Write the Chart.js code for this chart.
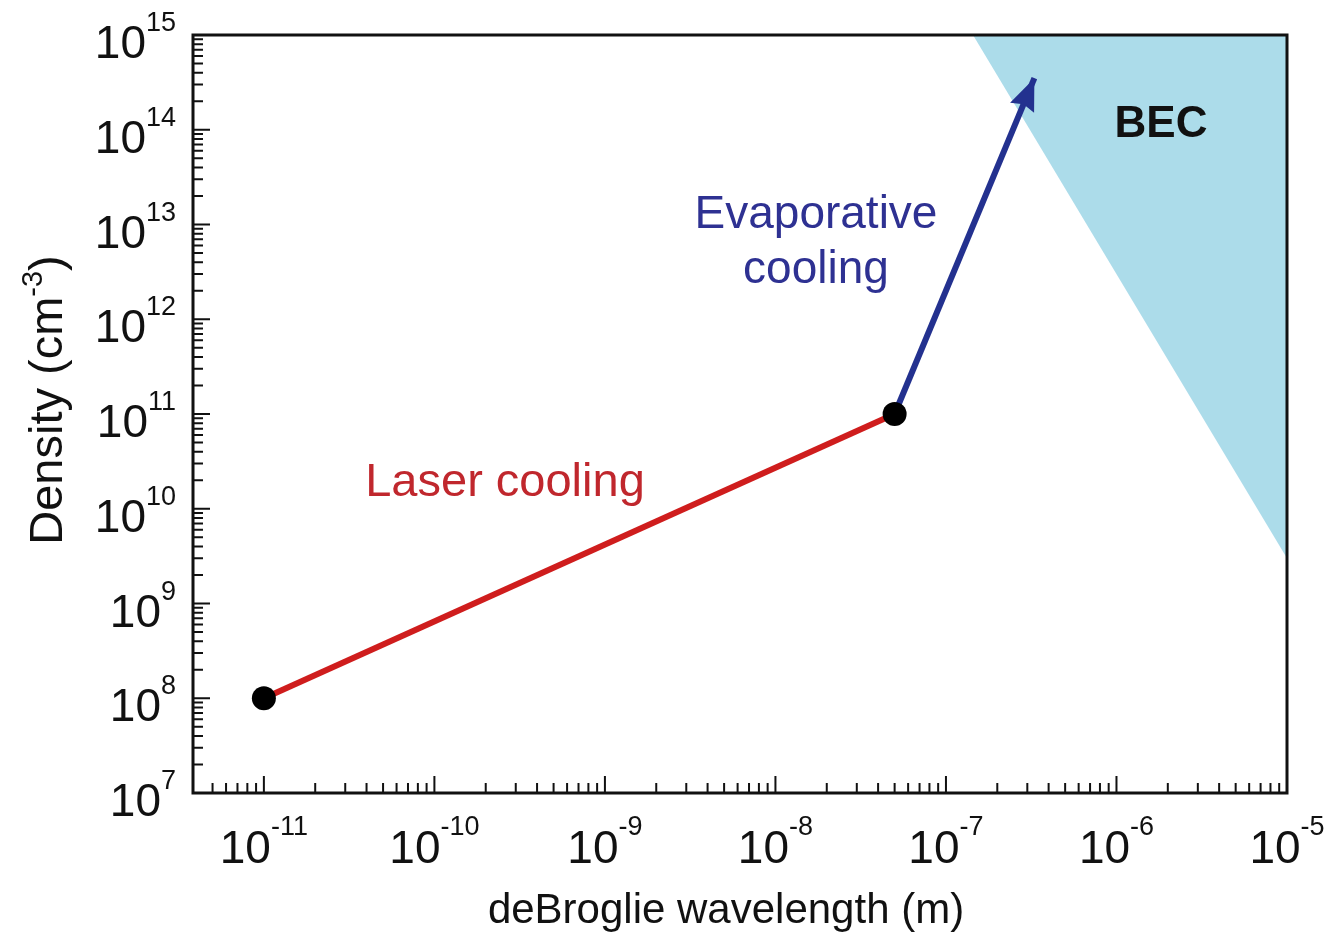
<!DOCTYPE html>
<html>
<head>
<meta charset="utf-8">
<script src="https://cdn.jsdelivr.net/npm/chart.js@4.4.1/dist/chart.umd.min.js"></script>
<style>
  html, body { margin: 0; padding: 0; background: #fff; }
  canvas { display: block; }
</style>
</head>
<body>
<canvas id="chart" width="1331" height="937"></canvas>
<script>
// axis ranges and decade labels
const xRange = [3.84e-12, 1e-5];
const yRange = [1e7, 1e15];
const xTickExponents = [-11, -10, -9, -8, -7, -6, -5];
const yTickExponents = [7, 8, 9, 10, 11, 12, 13, 14, 15];

// laser cooling path
const laserX = [1e-11, 5e-8];
const laserY = [1e8, 1e11];
// evaporative cooling path (ends in the arrow tip)
const evapX = [5e-8, 3.3e-7];
const evapY = [1e11, 3.5e14];
// BEC boundary (n * lambda^3 = const), filled up to the top
const becX = [1.44e-7, 1e-5];
const becY = [1e15, 3e9];
// black markers
const markerX = [1e-11, 5e-8];
const markerY = [1e8, 1e11];

const FONT = '"Liberation Sans", Arial, Helvetica, sans-serif';

function pts(xs, ys) {
    return xs.map((x, i) => ({ x: x, y: ys[i] }));
}

function keepDecadeTicks(scale) {
    scale.ticks = scale.ticks.filter(t => {
        const e = Math.floor(Math.log10(t.value) + 1e-9);
        const m = t.value / Math.pow(10, e);
        return Math.abs(m - Math.round(m)) < 1e-6 && Math.round(m) < 10;
    });
}

function mantissa(v) {
    const e = Math.floor(Math.log10(v) + 1e-9);
    return Math.round(v / Math.pow(10, e));
}

const framePlugin = {
    id: 'frame',
    afterDraw(chart) {
        const ctx = chart.ctx;
        const a = chart.chartArea;
        const xs = chart.scales.x;
        const ys = chart.scales.y;
        ctx.save();

        // arrow head on the evaporative line
        const tipX = xs.getPixelForValue(evapX[1]), tipY = ys.getPixelForValue(evapY[1]);
        const fromX = xs.getPixelForValue(evapX[0]), fromY = ys.getPixelForValue(evapY[0]);
        const ang = Math.atan2(tipY - fromY, tipX - fromX);
        const headLen = 32, headHalf = 13;
        ctx.fillStyle = '#23318f';
        ctx.beginPath();
        ctx.moveTo(tipX, tipY);
        ctx.lineTo(tipX - headLen * Math.cos(ang) + headHalf * Math.sin(ang),
                   tipY - headLen * Math.sin(ang) - headHalf * Math.cos(ang));
        ctx.lineTo(tipX - headLen * 0.88 * Math.cos(ang), tipY - headLen * 0.88 * Math.sin(ang));
        ctx.lineTo(tipX - headLen * Math.cos(ang) - headHalf * Math.sin(ang),
                   tipY - headLen * Math.sin(ang) + headHalf * Math.cos(ang));
        ctx.closePath();
        ctx.fill();

        // frame
        ctx.strokeStyle = '#111';
        ctx.lineWidth = 3;
        ctx.strokeRect(a.left, a.top, a.right - a.left, a.bottom - a.top);

        // inward ticks
        ctx.lineWidth = 2;
        ctx.beginPath();
        xs.ticks.forEach(t => {
            const p = xs.getPixelForValue(t.value);
            if (p < a.left + 1 || p > a.right + 1) return;
            const len = mantissa(t.value) === 1 ? 17 : 10;
            ctx.moveTo(p, a.bottom);
            ctx.lineTo(p, a.bottom - len);
        });
        ys.ticks.forEach(t => {
            const p = ys.getPixelForValue(t.value);
            if (p < a.top - 1 || p > a.bottom + 1) return;
            const len = mantissa(t.value) === 1 ? 17 : 10;
            ctx.moveTo(a.left, p);
            ctx.lineTo(a.left + len, p);
        });
        ctx.stroke();

        // tick labels 10^n
        ctx.fillStyle = '#111';
        const bigFont = '46px ' + FONT;
        const supFont = '27px ' + FONT;
        ctx.textBaseline = 'alphabetic';
        xTickExponents.forEach(e => {
            const p = xs.getPixelForValue(Math.pow(10, e));
            const sup = String(e);
            ctx.font = bigFont;
            const w1 = ctx.measureText('10').width;
            ctx.font = supFont;
            const w2 = ctx.measureText(sup).width;
            const left = p - (w1 + w2) / 2;
            ctx.textAlign = 'left';
            ctx.font = bigFont;
            ctx.fillText('10', left, a.bottom + 70);
            ctx.font = supFont;
            ctx.fillText(sup, left + w1, a.bottom + 42);
        });
        yTickExponents.forEach(e => {
            const p = ys.getPixelForValue(Math.pow(10, e));
            const sup = String(e);
            const right = a.left - 17;
            ctx.font = supFont;
            const w2 = ctx.measureText(sup).width;
            ctx.textAlign = 'right';
            ctx.fillText(sup, right, p - 4);
            ctx.font = bigFont;
            ctx.fillText('10', right - w2, p + 23);
        });

        // axis titles
        ctx.font = '42px ' + FONT;
        ctx.textAlign = 'center';
        ctx.fillText('deBroglie wavelength (m)', 726, 923);

        ctx.save();
        ctx.translate(62, 400);
        ctx.rotate(-Math.PI / 2);
        const tFont = '47px ' + FONT, tSup = '29px ' + FONT;
        ctx.font = tFont;
        const t1 = 'Density (cm', t3 = ')';
        const w1 = ctx.measureText(t1).width, w3 = ctx.measureText(t3).width;
        ctx.font = tSup;
        const w2 = ctx.measureText('-3').width;
        let x0 = -(w1 + w2 + w3) / 2;
        ctx.textAlign = 'left';
        ctx.font = tFont;
        ctx.fillText(t1, x0, 0);
        ctx.font = tSup;
        ctx.fillText('-3', x0 + w1, -20);
        ctx.font = tFont;
        ctx.fillText(t3, x0 + w1 + w2, 0);
        ctx.restore();

        // annotations
        ctx.textAlign = 'center';
        ctx.font = '47px ' + FONT;
        ctx.fillStyle = '#c0272d';
        ctx.fillText('Laser cooling', 505, 496);
        ctx.font = '46px ' + FONT;
        ctx.fillStyle = '#2e3192';
        ctx.fillText('Evaporative', 816, 228);
        ctx.fillText('cooling', 816, 283);
        ctx.font = 'bold 44px ' + FONT;
        ctx.fillStyle = '#111';
        ctx.fillText('BEC', 1161, 137);

        ctx.restore();
    }
};

const ctx = document.getElementById('chart').getContext('2d');
new Chart(ctx, {
    type: 'line',
    data: {
        datasets: [
            {
                label: 'BEC',
                data: pts(becX, becY),
                borderWidth: 0,
                borderColor: 'rgba(0,0,0,0)',
                backgroundColor: '#acdcea',
                fill: 'end',
                pointRadius: 0,
                order: 4
            },
            {
                label: 'Laser cooling',
                data: pts(laserX, laserY),
                borderColor: '#cf1d1d',
                borderWidth: 6,
                pointRadius: 0,
                fill: false,
                order: 3
            },
            {
                label: 'Evaporative cooling',
                data: pts(evapX, evapY),
                borderColor: '#23318f',
                borderWidth: 6,
                pointRadius: 0,
                fill: false,
                order: 2
            },
            {
                label: 'markers',
                data: pts(markerX, markerY),
                showLine: false,
                pointRadius: 12,
                pointBackgroundColor: '#000',
                pointBorderWidth: 0,
                order: 1
            }
        ]
    },
    options: {
        responsive: false,
        animation: false,
        events: [],
        layout: { padding: { left: 193, top: 35, right: 44, bottom: 144 } },
        plugins: { legend: { display: false }, tooltip: { enabled: false } },
        scales: {
            x: {
                type: 'logarithmic',
                min: xRange[0],
                max: xRange[1],
                afterBuildTicks: keepDecadeTicks,
                ticks: { display: false },
                grid: { display: false, drawTicks: false },
                border: { display: false },
                title: { display: false }
            },
            y: {
                type: 'logarithmic',
                min: yRange[0],
                max: yRange[1],
                afterBuildTicks: keepDecadeTicks,
                ticks: { display: false },
                grid: { display: false, drawTicks: false },
                border: { display: false },
                title: { display: false }
            }
        }
    },
    plugins: [framePlugin]
});
</script>
</body>
</html>
